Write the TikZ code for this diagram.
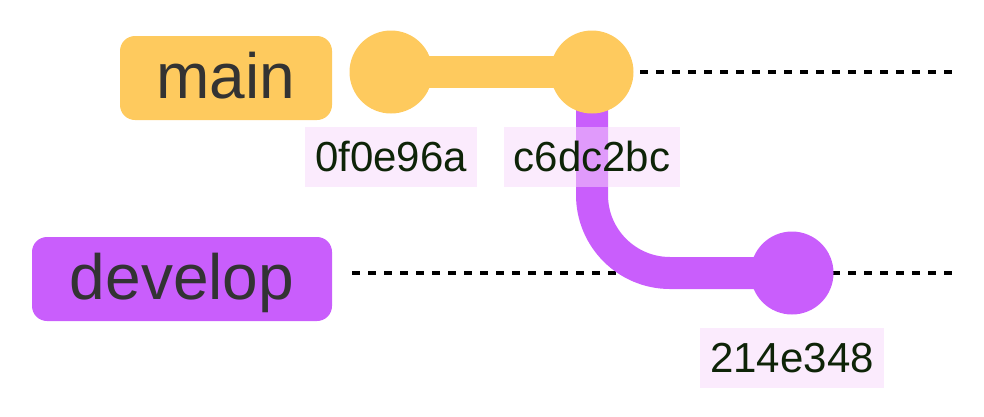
\documentclass[tikz,border=0pt]{standalone}
\usepackage{fontspec}
\setmainfont{Liberation Sans}
\usetikzlibrary{positioning,backgrounds}

\definecolor{mainyellow}{RGB}{254,202,94}
\definecolor{devpurple}{RGB}{201,94,252}
\definecolor{hashbg}{RGB}{247,215,251}
\definecolor{hashtext}{RGB}{14,36,8}
\definecolor{branchtext}{RGB}{51,51,51}

\begin{document}
\begin{tikzpicture}[x=1pt,y=-1pt,
    commit/.style={shape=circle,draw=none,minimum size=83pt,inner sep=0pt},
    hash/.style={shape=rectangle,fill=hashbg,fill opacity=0.5,text opacity=1,text=hashtext,
        minimum height=60pt,inner xsep=10pt,inner ysep=0pt,font=\fontsize{42}{48}\selectfont},
    branch/.style={shape=rectangle,rounded corners=15pt,draw=none,minimum height=84pt,inner sep=0pt,
        text=branchtext,text height=51pt,text depth=11pt,font=\fontsize{64}{70}\selectfont},
    track/.style={draw=black,line width=4pt,dash pattern=on 8pt off 8pt}
    ]
        \useasboundingbox (0,0) rectangle (984,416);

        \node[branch,fill=mainyellow,minimum width=212pt](main) at (226,78) {main};
        \node[branch,fill=devpurple,minimum width=300pt](develop) at (182,279) {develop};

        \node[commit,fill=mainyellow](c1) at (391,72) {};
        \node[commit,fill=mainyellow](c2) at (592,72) {};
        \node[commit,fill=devpurple](c3) at (792,273) {};

        \coordinate (mainend) at (952,72);
        \coordinate (devstart) at (352,273);
        \coordinate (devend) at (952,273);

        \begin{scope}[on background layer]
            \draw[track] (c2.center) -- (mainend);
            \draw[track] (devstart) -- (devend);
            \draw[mainyellow,line width=32pt] (c1.center) -- (c2.center);
            \draw[devpurple,line width=32pt,rounded corners=78pt] (c2.center) |- (c3.center);
        \end{scope}

        % commit hashes
        \node[hash,below=13pt of c1](h1) {0f0e96a};
        \node[hash,below=13pt of c2](h2) {c6dc2bc};
        \node[hash,below=13pt of c3](h3) {214e348};
    \end{tikzpicture}
\end{document}
